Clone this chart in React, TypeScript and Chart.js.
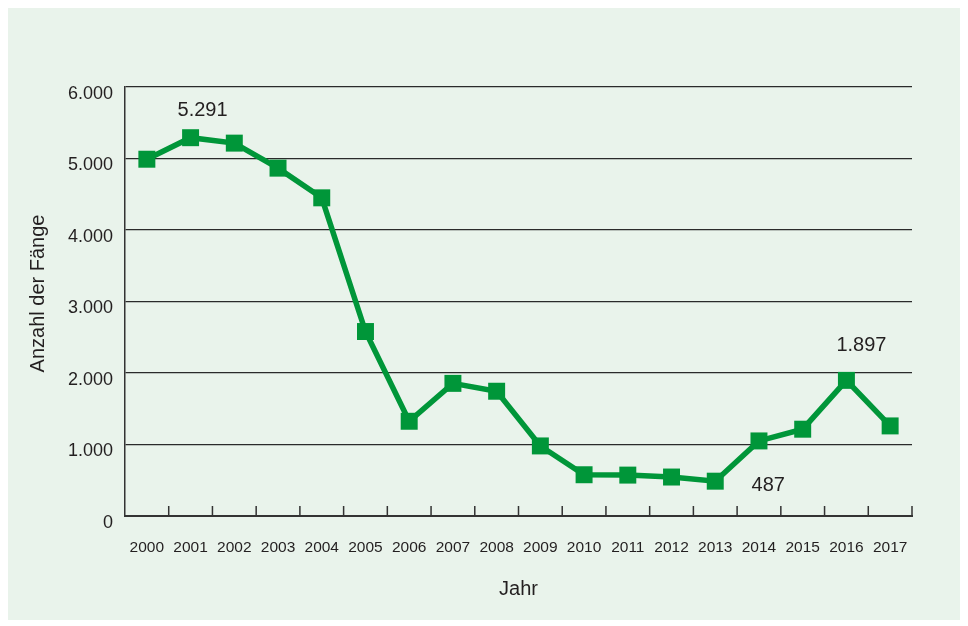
import React, { useEffect, useRef } from "react";
import { Chart, registerables } from "chart.js";

Chart.register(...registerables);

const years = ["2000","2001","2002","2003","2004","2005","2006","2007","2008","2009","2010","2011","2012","2013","2014","2015","2016","2017"];
const catches = [4990, 5291, 5215, 4865, 4450, 2580, 1325, 1855, 1745, 980, 577, 572, 545, 487, 1050, 1214, 1897, 1260];
const yTicks = [0, 1000, 2000, 3000, 4000, 5000, 6000];
const yTitle = "Anzahl der Fänge";
const xTitle = "Jahr";
const annotated = [
  { index: 1, text: "5.291", dx: 12, dy: -27 },
  { index: 13, text: "487", dx: 53, dy: 4 },
  { index: 16, text: "1.897", dx: 15, dy: -35 },
];

const GREEN = "#009639";
const TEXT = "#231f20";
const FONT = "'Liberation Sans', Arial, Helvetica, sans-serif";

const fmt = (v: number) => (v === 0 ? "0" : (v / 1000).toFixed(3));

const extrasPlugin = {
  id: "extras",
  afterDatasetsDraw(chart: any) {
    const ctx = chart.ctx;
    const x = chart.scales.x;
    const area = chart.chartArea;
    ctx.save();
    // upward tick marks at category boundaries
    ctx.strokeStyle = "#333";
    ctx.lineWidth = 1.5;
    ctx.beginPath();
    for (let i = 0; i < years.length - 1; i++) {
      const px = (x.getPixelForValue(i) + x.getPixelForValue(i + 1)) / 2;
      ctx.moveTo(px, area.bottom);
      ctx.lineTo(px, area.bottom - 10);
    }
    ctx.moveTo(area.right, area.bottom);
    ctx.lineTo(area.right, area.bottom - 10);
    ctx.stroke();
    // y axis title
    ctx.fillStyle = TEXT;
    ctx.font = `20px ${FONT}`;
    ctx.textAlign = "center";
    ctx.textBaseline = "middle";
    ctx.save();
    ctx.translate(30, (area.top + area.bottom) / 2 - 8);
    ctx.rotate(-Math.PI / 2);
    ctx.fillText(yTitle, 0, 0);
    ctx.restore();
    // annotations
    const meta = chart.getDatasetMeta(0);
    annotated.forEach((a) => {
      const p = meta.data[a.index];
      ctx.fillText(a.text, p.x + a.dx, p.y + a.dy);
    });
    ctx.restore();
  },
};

export default function App() {
  const ref = useRef<HTMLCanvasElement | null>(null);
  useEffect(() => {
    if (!ref.current) return;
    const chart = new Chart(ref.current, {
      type: "line",
      data: {
        labels: years,
        datasets: [
          {
            data: catches,
            borderColor: GREEN,
            backgroundColor: GREEN,
            borderWidth: 5.5,
            pointStyle: "rect",
            pointRadius: 12,
            pointHoverRadius: 12,
            pointBackgroundColor: GREEN,
            pointBorderWidth: 0,
            tension: 0,
            clip: false as any,
          },
        ],
      },
      options: {
        animation: false,
        responsive: false,
        maintainAspectRatio: false,
        layout: { padding: { top: 79, right: 53, bottom: 0, left: 0 } },
        plugins: {
          legend: { display: false },
          tooltip: { enabled: false },
        },
        scales: {
          x: {
            offset: true,
            grid: { display: false },
            border: { display: true, color: "#333", width: 2 },
            ticks: {
              color: TEXT,
              font: { family: FONT, size: 15.5 },
              padding: 14,
              maxRotation: 0,
              autoSkip: false,
            },
            title: {
              display: true,
              text: xTitle,
              color: TEXT,
              font: { family: FONT, size: 20 },
              padding: { top: 0, bottom: 19 },
            },
            afterFit(scale: any) {
              scale.height = 104;
            },
          },
          y: {
            min: 0,
            max: 6000,
            afterBuildTicks(scale: any) {
              scale.ticks = yTicks.map((v) => ({ value: v }));
            },
            grid: { color: "#2a2a2a", lineWidth: 1.3, drawTicks: false },
            border: { display: true, color: "#333", width: 1.5 },
            ticks: {
              color: TEXT,
              font: { family: FONT, size: 18 },
              padding: 12,
              labelOffset: 7,
              callback: (v: any) => fmt(Number(v)),
            },
            title: { display: false },
            afterFit(scale: any) {
              scale.width = 117;
            },
          },
        },
      },
      plugins: [extrasPlugin],
    });
    return () => chart.destroy();
  }, []);
  return (
    <div style={{ width: 957, height: 612, background: "#e9f3eb" }}>
      <canvas ref={ref} width={957} height={612} style={{ display: "block" }} />
    </div>
  );
}
